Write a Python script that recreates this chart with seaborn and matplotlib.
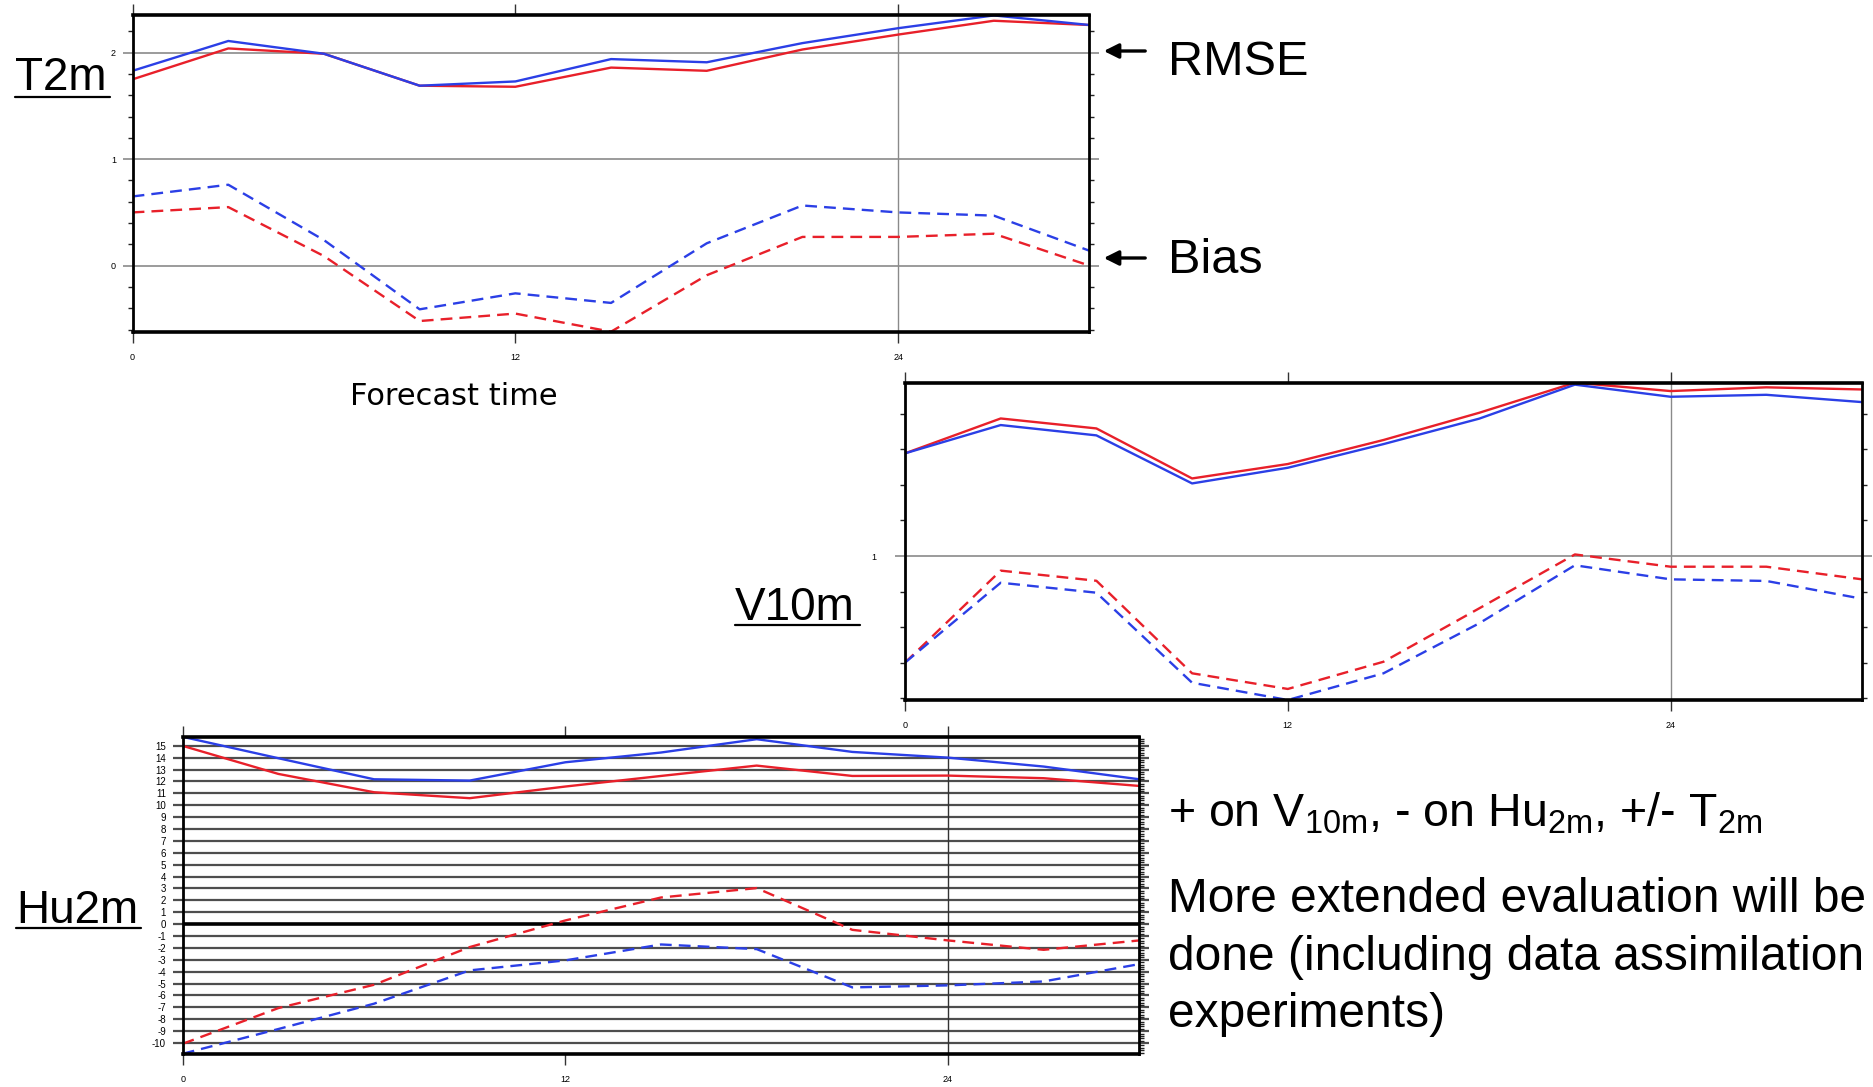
import numpy as np
import pandas as pd
import matplotlib
matplotlib.use("Agg")
import matplotlib.pyplot as plt
from matplotlib.lines import Line2D
from matplotlib.patches import FancyArrowPatch
from matplotlib.ticker import MultipleLocator, FixedLocator
import seaborn as sns

# ---------------- data ----------------
hours = [0, 3, 6, 9, 12, 15, 18, 21, 24, 27, 30]
xtick_vals = [0, 12, 24]
xtick_labels = ["0", "12", "24"]

t2m_rmse_red = [1.75, 2.04, 1.99, 1.69, 1.68, 1.86, 1.83, 2.03, 2.17, 2.30, 2.26]
t2m_rmse_blue = [1.83, 2.11, 1.99, 1.69, 1.73, 1.94, 1.91, 2.09, 2.23, 2.35, 2.26]
t2m_bias_red = [0.50, 0.55, 0.09, -0.52, -0.45, -0.62, -0.09, 0.27, 0.27, 0.30, 0.00]
t2m_bias_blue = [0.65, 0.76, 0.24, -0.41, -0.26, -0.35, 0.21, 0.565, 0.50, 0.47, 0.14]
t2m_ytick_vals = [0, 1, 2]
t2m_ytick_labels = ["0", "1", "2"]

v10m_rmse_red = [1.577, 1.773, 1.717, 1.436, 1.517, 1.652, 1.805, 1.974, 1.927, 1.948, 1.936]
v10m_rmse_blue = [1.577, 1.736, 1.678, 1.408, 1.496, 1.629, 1.772, 1.963, 1.895, 1.906, 1.865]
v10m_bias_red = [0.401, 0.918, 0.861, 0.341, 0.253, 0.406, 0.706, 1.009, 0.940, 0.940, 0.869]
v10m_bias_blue = [0.401, 0.850, 0.794, 0.288, 0.191, 0.341, 0.622, 0.948, 0.869, 0.860, 0.760]
v10m_ytick_vals = [1]
v10m_ytick_labels = ["1"]

hu2m_rmse_red = [14.99, 12.63, 11.09, 10.59, 11.57, 12.46, 13.33, 12.46, 12.49, 12.27, 11.62]
hu2m_rmse_blue = [15.75, 13.95, 12.18, 12.07, 13.61, 14.43, 15.55, 14.48, 14.00, 13.25, 12.18]
hu2m_bias_red = [-10.06, -7.06, -5.10, -1.93, 0.31, 2.24, 3.03, -0.48, -1.37, -2.16, -1.37]
hu2m_bias_blue = [-10.90, -8.82, -6.69, -3.89, -3.05, -1.71, -2.10, -5.32, -5.15, -4.82, -3.36]
hu2m_ytick_vals = list(range(-10, 16))
hu2m_ytick_labels = [str(v) for v in hu2m_ytick_vals]

runs = ["run_red", "run_blue"]
metrics = ["RMSE", "Bias"]
palette = {"run_red": "#e8202a", "run_blue": "#2b3fe6"}

# ---------------- setup ----------------
sns.set_style("white")
plt.rcParams["font.family"] = ["Liberation Sans", "DejaVu Sans"]
plt.rcParams["mathtext.fontset"] = "custom"
plt.rcParams["mathtext.rm"] = "Liberation Sans"
plt.rcParams["mathtext.it"] = "Liberation Sans"
plt.rcParams["text.color"] = "black"
plt.rcParams["axes.labelcolor"] = "black"
plt.rcParams["xtick.color"] = "black"
plt.rcParams["ytick.color"] = "black"

W, H = 1874, 1087
fig = plt.figure(figsize=(W / 100, H / 100), dpi=100)
fig.patch.set_facecolor("white")


def fx(x):
    return x / W


def fy(y):
    return 1 - y / H


def rect(l, r, t, b):
    return [l / W, 1 - b / H, (r - l) / W, (b - t) / H]


def long_df(rr, rb, br, bb):
    rows = []
    for run, rm, bi in (("run_red", rr, br), ("run_blue", rb, bb)):
        for h, v in zip(hours, rm):
            rows.append((h, v, run, "RMSE"))
        for h, v in zip(hours, bi):
            rows.append((h, v, run, "Bias"))
    return pd.DataFrame(rows, columns=["hour", "value", "run", "metric"])


def panel(ax, rr, rb, br, bb, ylim, ytv, ytl, minor_step, grid_vals,
          grid_color, grid_lw, ylabsize, zero_black=False, vline_color="#8a8a8a",
          minor_left=True):
    ax.set_facecolor("white")
    for v in grid_vals:
        if zero_black and v == 0:
            ax.axhline(v, color="black", lw=2.6, zorder=1.5)
        else:
            ax.axhline(v, color=grid_color, lw=grid_lw, zorder=1)
    ax.axvline(24, color=vline_color, lw=1.0, zorder=1)
    df = long_df(rr, rb, br, bb)
    sns.lineplot(data=df, x="hour", y="value", hue="run", style="metric",
                 hue_order=runs, style_order=metrics, palette=palette,
                 dashes={"RMSE": "", "Bias": (5, 3)}, linewidth=1.7,
                 estimator=None, sort=False, legend=False, ax=ax, zorder=3)
    ax.set_xlim(0, 30)
    ax.set_ylim(*ylim)
    ax.set_xlabel("")
    ax.set_ylabel("")
    ax.xaxis.set_major_locator(FixedLocator(xtick_vals))
    ax.set_xticklabels(xtick_labels)
    ax.yaxis.set_major_locator(FixedLocator(ytv))
    ax.set_yticklabels(ytl)
    ax.yaxis.set_minor_locator(MultipleLocator(minor_step))
    ax.tick_params(axis="x", which="major", direction="out", length=8, width=1.0,
                   top=True, bottom=True, labeltop=False, labelsize=6.5, pad=7,
                   color="#333333", labelcolor="black")
    ax.tick_params(axis="y", which="major", direction="out", length=7, width=grid_lw,
                   left=True, right=True, labelright=False, labelsize=ylabsize,
                   pad=5, color=grid_color, labelcolor="black")
    ax.tick_params(axis="y", which="minor", direction="out", length=3.5, width=1.0,
                   left=minor_left, right=True, color="#222222")
    for side, s in ax.spines.items():
        s.set_visible(True)
        s.set_color("black")
        s.set_linewidth(2.6 if side in ("top", "bottom") else 2.0)
        s.set_zorder(4)


ax_t = fig.add_axes(rect(132.6, 1089.5, 15, 332))
panel(ax_t, t2m_rmse_red, t2m_rmse_blue, t2m_bias_red, t2m_bias_blue,
      (-0.623, 2.354), t2m_ytick_vals, t2m_ytick_labels, 0.2, [0, 1, 2],
      "#8a8a8a", 1.2, 6.5)

ax_v = fig.add_axes(rect(905, 1862, 382.7, 700))
panel(ax_v, v10m_rmse_red, v10m_rmse_blue, v10m_bias_red, v10m_bias_blue,
      (0.191, 1.974), v10m_ytick_vals, v10m_ytick_labels, 0.2, [1],
      "#8a8a8a", 1.2, 6.5)
ax_v.tick_params(axis="y", which="major", pad=14)

ax_h = fig.add_axes(rect(182.7, 1139.3, 736.7, 1054))
panel(ax_h, hu2m_rmse_red, hu2m_rmse_blue, hu2m_bias_red, hu2m_bias_blue,
      (-10.92, 15.76), hu2m_ytick_vals, hu2m_ytick_labels, 0.2, hu2m_ytick_vals,
      "#4e4e4e", 1.6, 7, zero_black=True, vline_color="#333333", minor_left=False)

# ---------------- annotations ----------------
def label_underlined(text, x0, x1, baseline, uline, size):
    fig.text(fx(x0), fy(baseline), text, fontsize=size, ha="left", va="baseline",
             color="black")
    fig.add_artist(Line2D([fx(x0), fx(x1)], [fy(uline), fy(uline)],
                          transform=fig.transFigure, color="black", lw=1.6))


label_underlined("T2m", 15, 110, 90, 97, 33)
label_underlined("V10m", 735, 860, 620, 625, 33)
label_underlined("Hu2m", 16, 141, 923, 928, 33)

fig.text(fx(1168), fy(75), "RMSE", fontsize=35, ha="left", va="baseline")
fig.text(fx(1168), fy(273), "Bias", fontsize=35, ha="left", va="baseline")
for yy in (51, 258):
    fig.add_artist(FancyArrowPatch((fx(1148), fy(yy)), (fx(1101), fy(yy)),
                                   transform=fig.transFigure, arrowstyle="-|>",
                                   mutation_scale=22, lw=2.4, color="black"))

fig.text(fx(454), fy(405), "Forecast time", fontsize=22, ha="center",
         va="baseline", family=["DejaVu Sans"])

fig.text(fx(1168), fy(827),
         r"+ on V$_{\rm 10m}$, - on Hu$_{\rm 2m}$, +/- T$_{\rm 2m}$",
         fontsize=33.5, ha="left", va="baseline")
fig.text(fx(1168), fy(912), "More extended evaluation will be", fontsize=34.5,
         ha="left", va="baseline")
fig.text(fx(1168), fy(970), "done (including data assimilation", fontsize=34.5,
         ha="left", va="baseline")
fig.text(fx(1168), fy(1027), "experiments)", fontsize=34.5, ha="left", va="baseline")

fig.savefig("out.png", dpi=100, facecolor="white")
